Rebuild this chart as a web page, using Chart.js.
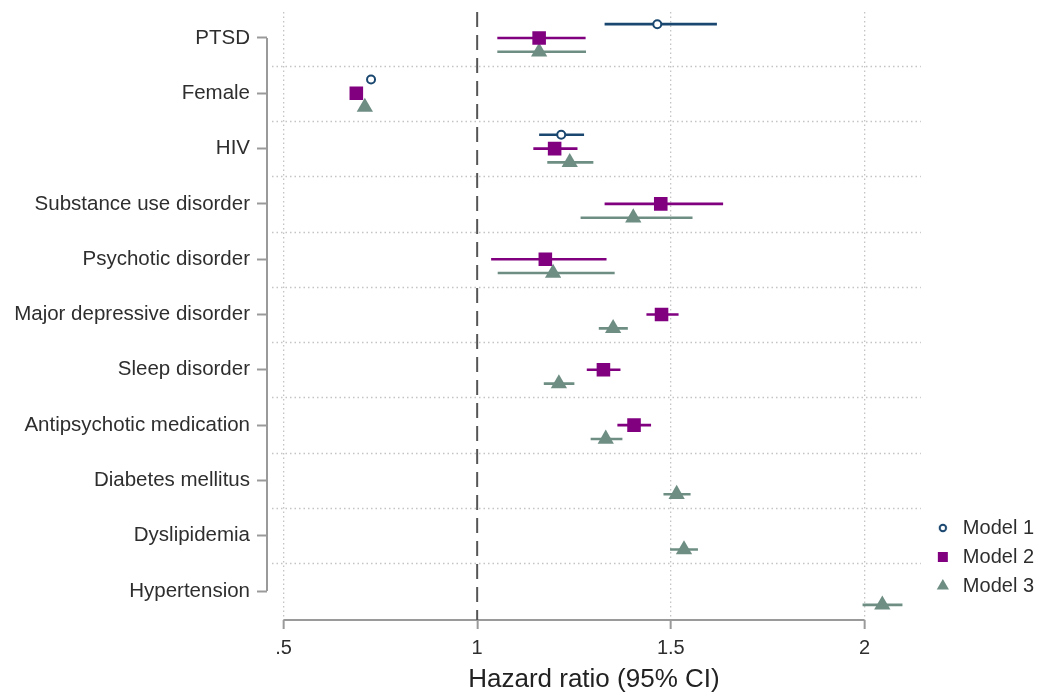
<!DOCTYPE html>
<html><head><meta charset="utf-8">
<script src="https://cdn.jsdelivr.net/npm/chart.js@4.4.1/dist/chart.umd.min.js"></script>
<style>html,body{margin:0;padding:0;background:#fff;}canvas{display:block;}</style>
</head><body>
<canvas id="c" width="1041" height="695"></canvas>
<script>
// ---- data ----
const CATEGORIES = ['PTSD','Female','HIV','Substance use disorder','Psychotic disorder','Major depressive disorder','Sleep disorder','Antipsychotic medication','Diabetes mellitus','Dyslipidemia','Hypertension'];
const MODEL_NAMES = ['Model 1','Model 2','Model 3'];
const M1_HR = [1.465, 0.726, 1.217, null, null, null, null, null, null, null, null];
const M1_LO = [1.329, 0.721, 1.160, null, null, null, null, null, null, null, null];
const M1_HI = [1.619, 0.731, 1.276, null, null, null, null, null, null, null, null];
const M2_HR = [1.160, 0.688, 1.200, 1.474, 1.176, 1.476, 1.326, 1.405, null, null, null];
const M2_LO = [1.052, 0.680, 1.145, 1.329, 1.036, 1.437, 1.283, 1.362, null, null, null];
const M2_HI = [1.280, 0.696, 1.259, 1.635, 1.334, 1.520, 1.370, 1.449, null, null, null];
const M3_HR = [1.160, 0.710, 1.239, 1.403, 1.196, 1.351, 1.211, 1.332, 1.515, 1.534, 2.046];
const M3_LO = [1.052, 0.702, 1.181, 1.267, 1.053, 1.314, 1.172, 1.293, 1.481, 1.498, 1.995];
const M3_HI = [1.281, 0.718, 1.300, 1.556, 1.355, 1.389, 1.251, 1.375, 1.551, 1.570, 2.098];
const X_TICKS = [0.5, 1, 1.5, 2];
const X_TICK_LABELS = ['.5', '1', '1.5', '2'];
const REF_VALUE = [1];
const X_TITLE = 'Hazard ratio (95% CI)';

// ---- styling / layout constants ----
const COLORS = ['#1a476f', '#800080', '#6e8e84'];
const OFFSETS = [-0.25, 0, 0.25];
const Y_MIN = -0.47, Y_MAX = 10.524;
const X_MIN = 0.4574, X_MAX = 2.1455;
const FONT = '"Liberation Sans", Arial, Helvetica, sans-serif';
const GRID = '#c4c4c4';
const AXIS = '#9a9a9a';
const TEXT = '#2e2e2e';

function pts(hr, k) {
  const out = [];
  hr.forEach((v, i) => { if (v != null) out.push({x: v, y: i + OFFSETS[k]}); });
  return out;
}
function segs(lo, hi, k) {
  const out = [];
  lo.forEach((l, i) => {
    if (l == null) return;
    out.push({x: l, y: i + OFFSETS[k]}, {x: hi[i], y: i + OFFSETS[k]}, {x: NaN, y: NaN});
  });
  return out;
}

const legendCircle = (() => {
  const c = document.createElement('canvas');
  c.width = 12; c.height = 12;
  const g = c.getContext('2d');
  g.beginPath(); g.arc(6, 6, 3.2, 0, Math.PI * 2);
  g.fillStyle = '#fff'; g.fill();
  g.lineWidth = 2; g.strokeStyle = COLORS[0]; g.stroke();
  return c;
})();

const markerBase = {type: 'scatter', showLine: false, order: 0};
const datasets = [
  Object.assign({}, markerBase, {label: MODEL_NAMES[0], data: pts(M1_HR, 0), pointStyle: 'circle', pointRadius: 4, pointBorderWidth: 2, borderWidth: 2, backgroundColor: '#ffffff', borderColor: COLORS[0], pointBackgroundColor: '#ffffff', pointBorderColor: COLORS[0]}),
  Object.assign({}, markerBase, {label: MODEL_NAMES[1], data: pts(M2_HR, 1), pointStyle: 'rect', pointRadius: 9.6, pointBorderWidth: 0, borderWidth: 0, backgroundColor: COLORS[1], borderColor: COLORS[1]}),
  Object.assign({}, markerBase, {label: MODEL_NAMES[2], data: pts(M3_HR, 2), pointStyle: 'triangle', pointRadius: 9.4, pointBorderWidth: 0, borderWidth: 0, backgroundColor: COLORS[2], borderColor: COLORS[2]}),
];
[[M1_LO, M1_HI], [M2_LO, M2_HI], [M3_LO, M3_HI]].forEach(([lo, hi], k) => {
  datasets.push({type: 'scatter', label: 'ci' + k, data: segs(lo, hi, k), showLine: true, spanGaps: false, pointRadius: 0, borderColor: COLORS[k], borderWidth: 2.6, order: 1});
});
datasets.push({type: 'scatter', label: 'ref', data: [{x: REF_VALUE[0], y: Y_MIN}, {x: REF_VALUE[0], y: Y_MAX}], showLine: true, pointRadius: 0, borderColor: '#555555', borderWidth: 2, borderDash: [15, 8], order: 2});

const decor = {
  id: 'decor',
  afterLayout(chart) {
    const lg = chart.legend;
    if (lg) { lg.left = chart.chartArea.right + 3; lg.bottom = 605; }
  },
  beforeDatasetsDraw(chart) {
    const {ctx, chartArea, scales: {x, y}} = chart;
    ctx.save();
    ctx.strokeStyle = GRID; ctx.lineWidth = 1.3; ctx.setLineDash([1.5, 3]);
    for (let i = 0; i < CATEGORIES.length - 1; i++) {
      const py = Math.round(y.getPixelForValue(i + 0.5)) + 0.5;
      ctx.beginPath(); ctx.moveTo(chartArea.left + 5, py); ctx.lineTo(chartArea.right, py); ctx.stroke();
    }
    ctx.setLineDash([]);
    ctx.strokeStyle = AXIS; ctx.lineWidth = 2;
    ctx.beginPath();
    ctx.moveTo(chartArea.left, y.getPixelForValue(0));
    ctx.lineTo(chartArea.left, y.getPixelForValue(CATEGORIES.length - 1));
    ctx.stroke();
    ctx.beginPath();
    ctx.moveTo(x.getPixelForValue(X_TICKS[0]), chartArea.bottom);
    ctx.lineTo(x.getPixelForValue(X_TICKS[X_TICKS.length - 1]), chartArea.bottom);
    ctx.stroke();
    ctx.restore();
  }
};

new Chart(document.getElementById('c'), {
  type: 'scatter',
  data: {datasets},
  options: {
    responsive: false,
    animation: false,
    layout: {padding: {top: 12, left: 0, right: 0, bottom: 0}},
    plugins: {
      tooltip: {enabled: false},
      legend: {
        position: 'right',
        align: 'end',
        maxWidth: 121,
        labels: {
          usePointStyle: true,
          boxHeight: 10,
          padding: 9,
          color: TEXT,
          font: {family: FONT, size: 20},
          filter: (item) => MODEL_NAMES.includes(item.text),
          generateLabels: (chart) => {
            const items = Chart.defaults.plugins.legend.labels.generateLabels(chart);
            items.forEach(it => { if (it.text === MODEL_NAMES[0]) it.pointStyle = legendCircle; });
            return items;
          }
        }
      }
    },
    scales: {
      x: {
        type: 'linear',
        min: X_MIN, max: X_MAX,
        afterBuildTicks: (s) => { s.ticks = X_TICKS.map(v => ({value: v})); },
        afterFit: (s) => { s.height = 75; s.paddingLeft = 0; s.paddingRight = 0; },
        ticks: {
          callback: (v) => { const i = X_TICKS.indexOf(v); return i >= 0 ? X_TICK_LABELS[i] : ''; },
          color: TEXT, font: {family: FONT, size: 20}, padding: 7, maxRotation: 0
        },
        grid: {
          drawOnChartArea: true, drawTicks: true, tickLength: 9, tickWidth: 2, tickColor: AXIS,
          lineWidth: 1.3,
          color: (ctx) => (ctx.tick && ctx.tick.value === REF_VALUE[0]) ? 'rgba(0,0,0,0)' : GRID
        },
        border: {display: false, dash: [1.5, 3]},
        title: {display: true, text: X_TITLE, color: '#222222', font: {family: FONT, size: 26}, padding: {top: 0, bottom: 0}}
      },
      y: {
        type: 'linear',
        reverse: true,
        min: Y_MIN, max: Y_MAX,
        afterBuildTicks: (s) => { s.ticks = CATEGORIES.map((c, i) => ({value: i})); },
        afterFit: (s) => { s.width = 267; s.paddingTop = 0; s.paddingBottom = 0; },
        ticks: {
          callback: (v) => CATEGORIES[v] || '',
          color: TEXT, font: {family: FONT, size: 20.5}, padding: 7
        },
        grid: {drawOnChartArea: false, drawTicks: true, tickLength: 10, tickWidth: 2, tickColor: AXIS},
        border: {display: false}
      }
    }
  },
  plugins: [decor]
});
</script>
</body></html>
